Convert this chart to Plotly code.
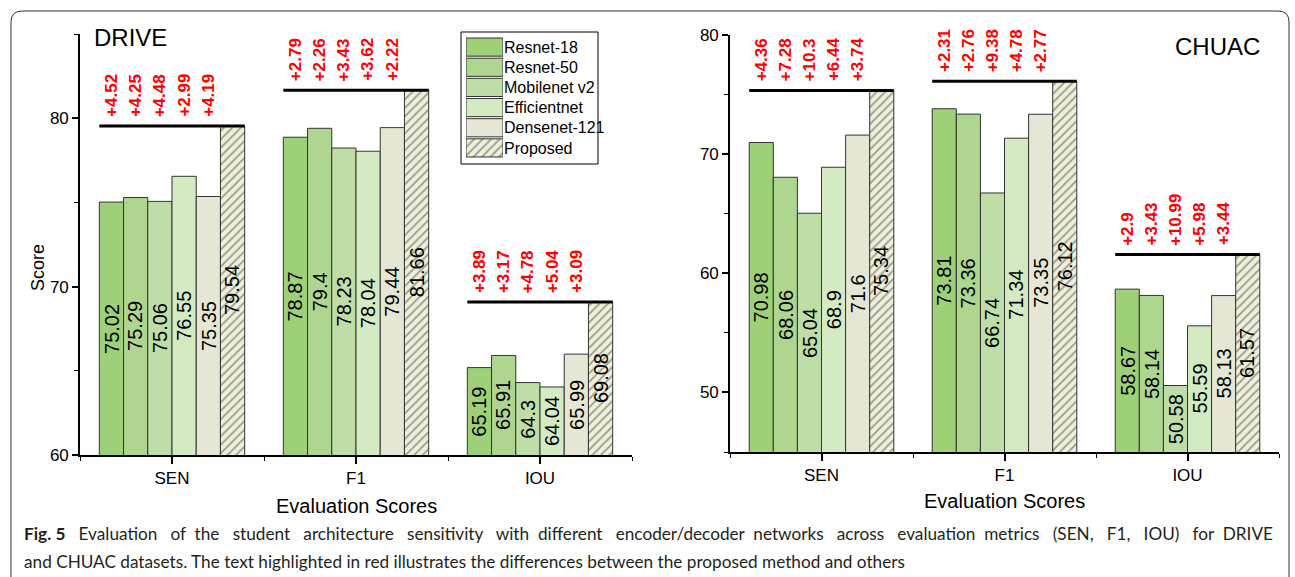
import plotly.graph_objects as go

W, H = 1295, 577

metrics = ["SEN", "F1", "IOU"]
metric_pos = [1, 2, 3]
models = ["Resnet-18", "Resnet-50", "Mobilenet v2", "Efficientnet", "Densenet-121", "Proposed"]
colors = ["#9ED177", "#AED68F", "#BFDEA7", "#D3EAC3", "#E5E6D4", "#EFF0DA"]

# DRIVE
drive_resnet18 = [75.02, 78.87, 65.19]
drive_resnet50 = [75.29, 79.4, 65.91]
drive_mobilenet = [75.06, 78.23, 64.3]
drive_efficientnet = [76.55, 78.04, 64.04]
drive_densenet = [75.35, 79.44, 65.99]
drive_proposed = [79.54, 81.66, 69.08]

# CHUAC
chuac_resnet18 = [70.98, 73.81, 58.67]
chuac_resnet50 = [68.06, 73.36, 58.14]
chuac_mobilenet = [65.04, 66.74, 50.58]
chuac_efficientnet = [68.9, 71.34, 55.59]
chuac_densenet = [71.6, 73.35, 58.13]
chuac_proposed = [75.34, 76.12, 61.57]

# Differences (proposed - others)
drive_gain_sen = ["+4.52", "+4.25", "+4.48", "+2.99", "+4.19"]
drive_gain_f1 = ["+2.79", "+2.26", "+3.43", "+3.62", "+2.22"]
drive_gain_iou = ["+3.89", "+3.17", "+4.78", "+5.04", "+3.09"]
chuac_gain_sen = ["+4.36", "+7.28", "+10.3", "+6.44", "+3.74"]
chuac_gain_f1 = ["+2.31", "+2.76", "+9.38", "+4.78", "+2.77"]
chuac_gain_iou = ["+2.9", "+3.43", "+10.99", "+5.98", "+3.44"]

drive_range = [60, 85]
chuac_range = [45, 80]

caption1_words = ("Evaluation of the student architecture sensitivity with different "
                  "encoder/decoder networks across evaluation metrics (SEN, F1, IOU) for DRIVE").split(" ")
caption2 = ("and CHUAC datasets. The text highlighted in red illustrates the differences between "
            "the proposed method and others")

FONT = "Arial, Liberation Sans, sans-serif"
CAPFONT = "Lato, sans-serif"
BARGAP = 0.21
EDGE = "#333333"

# justified first caption line: widen the word gaps (mostly wide, a few narrower gaps)
NARROW_GAPS = {1, 6, 8, 11, 16}
caption1 = "<b>Fig. 5</b>\u00a0\u00a0 " + caption1_words[0]
for k, w in enumerate(caption1_words[1:]):
    gap = "\u00a0 " if k in NARROW_GAPS else "\u00a0\u00a0 "
    caption1 += gap + w


def px(x):
    return x / W


def py(y):
    return 1 - y / H


fig = go.Figure()

drive_series = [drive_resnet18, drive_resnet50, drive_mobilenet, drive_efficientnet, drive_densenet, drive_proposed]
chuac_series = [chuac_resnet18, chuac_resnet50, chuac_mobilenet, chuac_efficientnet, chuac_densenet, chuac_proposed]

group_w = 1 - BARGAP
n = len(models)
shapes = []
annotations = []

for series, xa, ya, yr in [(drive_series, "x", "y", drive_range), (chuac_series, "x2", "y2", chuac_range)]:
    for i, (name, vals) in enumerate(zip(models, series)):
        proposed = name == "Proposed"
        fig.add_trace(go.Bar(
            x=metric_pos, y=vals, name=name, xaxis=xa, yaxis=ya, showlegend=False,
            marker=dict(color=colors[i], line=dict(color=EDGE, width=1),
                        pattern=dict(shape="/" if proposed else "", fgcolor="#444444",
                                     fillmode="overlay", size=6, solidity=0.3)),
        ))
        # value labels in the middle of the visible part of each bar
        for c, v in zip(metric_pos, vals):
            xc = c - group_w / 2 + (i + 0.5) * group_w / n
            annotations.append(dict(xref=xa, yref=ya, x=xc, y=(yr[0] + v) / 2, text=str(v),
                                    showarrow=False, textangle=-90, xanchor="center", yanchor="middle",
                                    font=dict(family=FONT, size=20, color="black")))

# Legend drawn as a tiny horizontal bar chart
fig.add_trace(go.Bar(
    x=[1] * len(models), y=models, orientation="h", xaxis="x3", yaxis="y3",
    width=0.9, showlegend=False, hoverinfo="skip",
    marker=dict(color=colors, line=dict(color=EDGE, width=1),
                pattern=dict(shape=[""] * 5 + ["/"], fgcolor="#444444",
                             fillmode="overlay", size=6, solidity=0.3)),
))

for gains_list, prop, xr, yr in [
    ([drive_gain_sen, drive_gain_f1, drive_gain_iou], drive_proposed, "x", "y"),
    ([chuac_gain_sen, chuac_gain_f1, chuac_gain_iou], chuac_proposed, "x2", "y2"),
]:
    for c, gains, pv in zip(metric_pos, gains_list, prop):
        shapes.append(dict(type="line", xref=xr, yref=yr, x0=c - group_w / 2, x1=c + group_w / 2,
                           y0=pv, y1=pv, line=dict(color="black", width=3)))
        for i, g in enumerate(gains):
            xc = c - group_w / 2 + (i + 0.5) * group_w / n
            annotations.append(dict(xref=xr, yref=yr, x=xc, y=pv, text=g, showarrow=False,
                                    textangle=-90, yanchor="bottom", xanchor="center", yshift=7,
                                    font=dict(family=FONT, size=17, color="#FF0000", weight="bold")))

# legend box
shapes.append(dict(type="rect", xref="paper", yref="paper", x0=px(461), x1=px(598),
                   y0=py(164), y1=py(32), line=dict(color="black", width=1), fillcolor="rgba(0,0,0,0)"))

# figure frame
frame = (f"M {px(11)},{py(577)} L {px(11)},{py(22)} Q {px(11)},{py(11)} {px(22)},{py(11)} "
         f"L {px(1278)},{py(11)} Q {px(1289)},{py(11)} {px(1289)},{py(22)} L {px(1289)},{py(577)}")
shapes.append(dict(type="path", xref="paper", yref="paper", path=frame,
                   line=dict(color="#333333", width=1)))

annotations += [
    dict(xref="paper", yref="paper", x=px(92), y=py(37), text="DRIVE", showarrow=False,
         xanchor="left", yanchor="middle", font=dict(family=FONT, size=24, color="black")),
    dict(xref="paper", yref="paper", x=px(1217), y=py(47), text="CHUAC", showarrow=False,
         xanchor="center", yanchor="middle", font=dict(family=FONT, size=24, color="black")),
    dict(xref="paper", yref="paper", x=px(38), y=py(268), text="Score", showarrow=False,
         textangle=-90, xanchor="center", yanchor="middle", font=dict(family=FONT, size=18, color="black")),
    dict(xref="paper", yref="paper", x=px(356), y=py(506), text="Evaluation Scores", showarrow=False,
         xanchor="center", yanchor="middle", font=dict(family=FONT, size=20, color="black")),
    dict(xref="paper", yref="paper", x=px(1004), y=py(501), text="Evaluation Scores", showarrow=False,
         xanchor="center", yanchor="middle", font=dict(family=FONT, size=20, color="black")),
    dict(xref="paper", yref="paper", x=px(22), y=py(533), text=caption1, showarrow=False,
         xanchor="left", yanchor="middle", font=dict(family=CAPFONT, size=17.2, color="#231F20")),
    dict(xref="paper", yref="paper", x=px(22), y=py(561), text=caption2, showarrow=False,
         xanchor="left", yanchor="middle", font=dict(family=CAPFONT, size=17.2, color="#231F20")),
]

xcommon = dict(range=[0.5, 3.5], tickvals=metric_pos, ticktext=metrics, showgrid=False, zeroline=False,
               showline=True, linecolor="black", linewidth=1.6, ticks="outside", ticklen=7,
               tickwidth=1.6, tickcolor="black", tickfont=dict(family=FONT, size=17, color="black"),
               minor=dict(tickvals=[0.5, 1.5, 2.5, 3.5], ticks="outside", ticklen=4,
                          tickwidth=1.4, tickcolor="black"))
ycommon = dict(showgrid=False, zeroline=False, showline=True, linecolor="black", linewidth=1.6,
               ticks="outside", ticklen=6, tickwidth=1.6, tickcolor="black",
               tickfont=dict(family=FONT, size=17, color="black"))

fig.update_layout(
    width=W, height=H, margin=dict(l=0, r=0, t=0, b=0, pad=0, autoexpand=False),
    paper_bgcolor="white", plot_bgcolor="white",
    barmode="group", bargap=BARGAP, bargroupgap=0,
    xaxis=dict(domain=[px(80), px(632)], anchor="y", **xcommon),
    yaxis=dict(domain=[py(455), py(34)], anchor="x", range=drive_range, tickvals=[60, 70, 80],
               minor=dict(tickvals=[65, 75, 85], ticks="outside", ticklen=4, tickwidth=1.4,
                          tickcolor="black"), **ycommon),
    xaxis2=dict(domain=[px(730), px(1279)], anchor="y2", **xcommon),
    yaxis2=dict(domain=[py(452), py(35)], anchor="x2", range=chuac_range, tickvals=[50, 60, 70, 80],
                minor=dict(tickvals=[45, 55, 65, 75], ticks="outside", ticklen=4, tickwidth=1.4,
                           tickcolor="black"), **ycommon),
    xaxis3=dict(domain=[px(466), px(503)], anchor="y3", range=[0, 1], visible=False, fixedrange=True),
    yaxis3=dict(domain=[py(158), py(37)], anchor="x3", side="right", autorange="reversed",
                showline=False, showgrid=False, zeroline=False, ticks="", fixedrange=True,
                tickfont=dict(family=FONT, size=16, color="black")),
    shapes=shapes, annotations=annotations,
)

fig.write_html("out.html", config={"displayModeBar": False},
               post_script="document.body.style.margin='0px';")
